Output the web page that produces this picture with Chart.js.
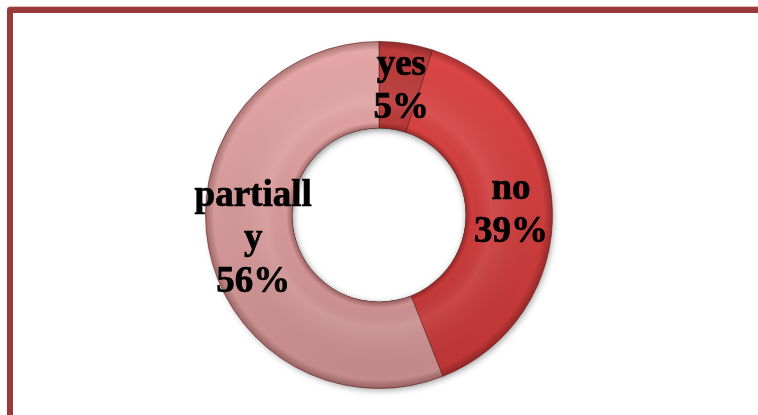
<!DOCTYPE html>
<html>
<head>
<meta charset="utf-8">
<script src="https://cdn.jsdelivr.net/npm/chart.js@4"></script>
<style>
  html, body { margin: 0; padding: 0; background: #fff; overflow: hidden; }
  #wrap { position: relative; width: 758px; height: 415px; }
  #frame {
    position: absolute; left: 7px; top: 7px; width: 800px; height: 460px;
    border: 6px solid #9b3a3a; border-radius: 3px;
    box-shadow: 0 -1px 1px rgba(150, 60, 60, 0.35);
  }
  #pie { position: absolute; left: 0; top: 0; }
</style>
</head>
<body>
<div id="wrap">
  <div id="frame"></div>
  <canvas id="pie" width="758" height="415"></canvas>
</div>
<script>
const answers = ['yes', 'no', 'partially'];
const shares = [5, 39, 56];
// label text as it wraps inside each slice
const sliceLabels = [['yes', '5%'], ['no', '39%'], ['partiall', 'y', '56%']];

// top / bottom colours of each slice
const topColors = ['#bd3c3c', '#de4646', '#e6a8a8'];
const bottomColors = ['#a83232', '#bb3434', '#c4898a'];

function sliceFill(context) {
    const chart = context.chart;
    const area = chart.chartArea;
    if (!area) return topColors[context.dataIndex];
    const g = chart.ctx.createLinearGradient(0, area.top, 0, area.bottom);
    g.addColorStop(0, topColors[context.dataIndex]);
    g.addColorStop(1, bottomColors[context.dataIndex]);
    return g;
}

function ringPath(ctx, x, y, r0, r1) {
    ctx.beginPath();
    ctx.arc(x, y, r1, 0, Math.PI * 2);
    ctx.arc(x, y, r0, 0, Math.PI * 2, true);
    ctx.closePath();
}

// darkens the inner and outer rim of the ring and adds a soft shadow
const bevel = {
    id: 'bevel',
    beforeDatasetsDraw(chart) {
        const arc = chart.getDatasetMeta(0).data[0];
        const ctx = chart.ctx;
        ctx.save();
        ctx.shadowColor = 'rgba(0,0,0,0.35)';
        ctx.shadowBlur = 6;
        ctx.shadowOffsetX = 2;
        ctx.shadowOffsetY = 3;
        ringPath(ctx, arc.x, arc.y, arc.innerRadius + 2, arc.outerRadius - 1);
        ctx.fillStyle = '#c98c8c';
        ctx.fill();
        ctx.restore();
    },
    afterDatasetsDraw(chart) {
        const arc = chart.getDatasetMeta(0).data[0];
        const ctx = chart.ctx;
        const r0 = arc.innerRadius, r1 = arc.outerRadius;
        ctx.save();
        const g = ctx.createRadialGradient(arc.x, arc.y, r0, arc.x, arc.y, r1);
        g.addColorStop(0, 'rgba(60,0,0,0.35)');
        g.addColorStop(0.07, 'rgba(60,0,0,0.0)');
        g.addColorStop(0.3, 'rgba(255,255,255,0.08)');
        g.addColorStop(0.9, 'rgba(0,0,0,0)');
        g.addColorStop(1, 'rgba(60,0,0,0.3)');
        ringPath(ctx, arc.x, arc.y, r0, r1);
        ctx.fillStyle = g;
        ctx.fill();
        // inset shadow along the hole
        ctx.beginPath();
        ctx.arc(arc.x, arc.y, r0, 0, Math.PI * 2);
        ctx.clip();
        ctx.fillStyle = '#fff';
        ctx.fill();
        ctx.shadowColor = 'rgba(0,0,0,0.45)';
        ctx.shadowBlur = 6;
        ctx.shadowOffsetX = 1;
        ctx.shadowOffsetY = 2;
        ringPath(ctx, arc.x, arc.y, r0, r0 + 20);
        ctx.fillStyle = '#000';
        ctx.fill();
        ctx.restore();

        // slice labels
        ctx.save();
        ctx.font = 'bold 37px "Liberation Serif", "Times New Roman", serif';
        ctx.fillStyle = '#000';
        ctx.strokeStyle = '#000';
        ctx.lineWidth = 0.7;
        ctx.textAlign = 'center';
        ctx.textBaseline = 'middle';
        const lineH = 43;
        chart.getDatasetMeta(0).data.forEach((el, i) => {
            const p = el.tooltipPosition();
            const lines = sliceLabels[i];
            const y0 = p.y - (lines.length - 1) * lineH / 2;
            lines.forEach((t, k) => {
                ctx.fillText(t, p.x + 2, y0 + k * lineH);
                ctx.strokeText(t, p.x + 2, y0 + k * lineH);
            });
        });
        ctx.restore();
    }
};

new Chart(document.getElementById('pie'), {
    type: 'doughnut',
    data: {
        labels: answers,
        datasets: [{
            data: shares,
            backgroundColor: sliceFill,
            borderColor: 'rgba(90,25,25,0.55)',
            borderWidth: 1
        }]
    },
    options: {
        responsive: false,
        animation: false,
        cutout: '50%',
        layout: { padding: { left: 205, right: 205, top: 41, bottom: 26 } },
        plugins: {
            legend: { display: false },
            tooltip: { enabled: false }
        }
    },
    plugins: [bevel]
});
</script>
</body>
</html>
